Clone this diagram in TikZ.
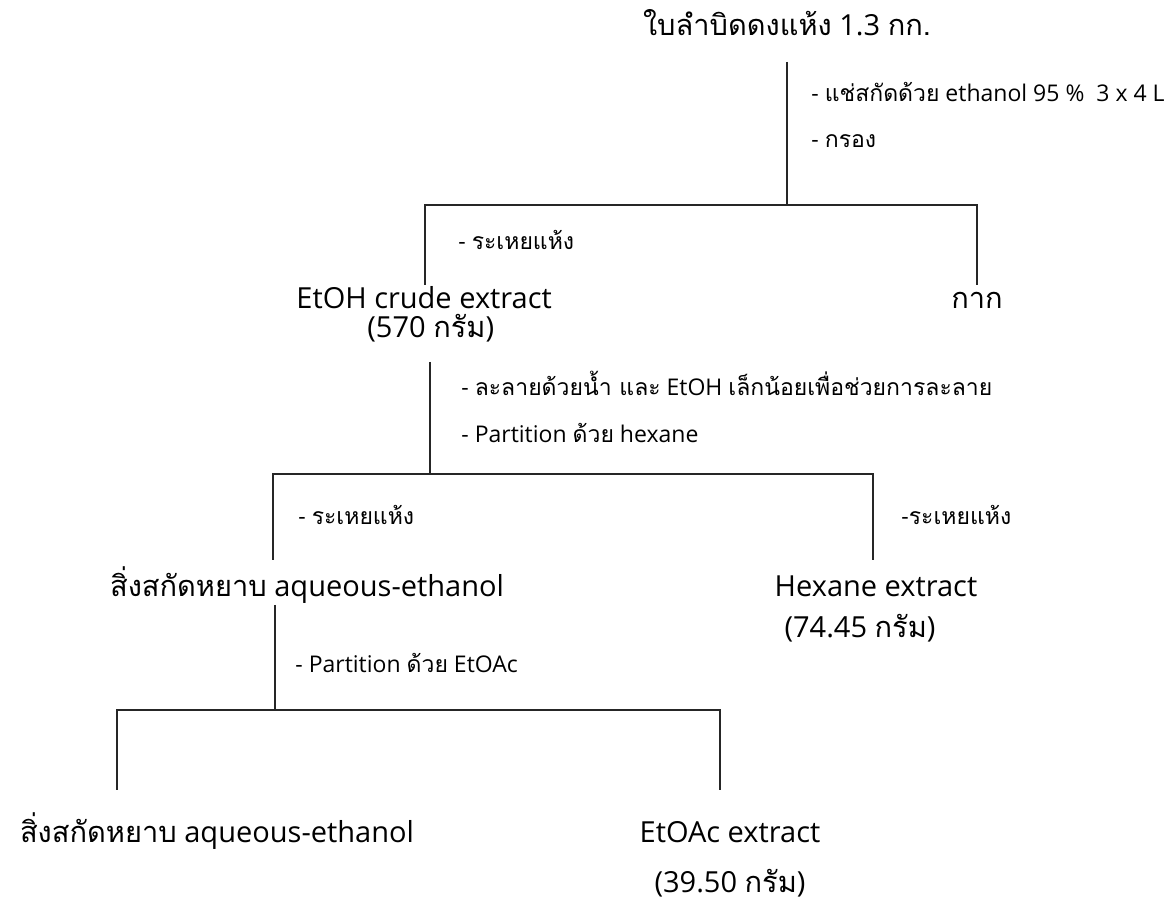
\documentclass[tikz,border=0pt]{standalone}
\usepackage{fontspec}
\setmainfont{Open Sans}
\newfontfamily\thaif[Script=Thai]{Loma}
\begin{document}
\begin{tikzpicture}[x=0.5pt,y=-0.5pt,
  big/.style={anchor=base,inner sep=0pt,font=\fontsize{14.5}{16}\selectfont},
  note/.style={anchor=base west,inner sep=0pt,font=\fontsize{11.5}{13}\selectfont},
  conn/.style={line width=0.75pt,black!85}]
\useasboundingbox[fill=white] (0,0) rectangle (1174,913);
% main nodes
\node[big] (top) at (787,36) {{\thaif ใบลำบิดดงแห้ง} 1.3 {\thaif กก.}};
\node[big,anchor=base west] (crude) at (296,309) {EtOH crude extract};
\node[big,anchor=base west] (crudew) at (367,338) {(570 {\thaif กรัม})};
\node[big] (kak) at (977,309) {{\thaif กาก}};
\node[big] (aq1) at (307,597) {{\thaif สิ่งสกัดหยาบ} aqueous-ethanol};
\node[big] (hex) at (876,597) {Hexane extract};
\node[big] (hexw) at (860,638) {(74.45 {\thaif กรัม})};
\node[big] (aq2) at (217,843) {{\thaif สิ่งสกัดหยาบ} aqueous-ethanol};
\node[big] (ea) at (730,843) {EtOAc extract};
\node[big] (eaw) at (730,893) {(39.50 {\thaif กรัม})};
% notes
\node[note,anchor=base east] (n1) at (1165,102) {- {\thaif แช่สกัดด้วย} ethanol 95 \%\ \ 3 x 4 L};
\node[note] (n2) at (n1.base west |- 0,148) {- {\thaif กรอง}};
\node[note] (n3) at (458,250) {- {\thaif ระเหยแห้ง}};
\node[note] (n4) at (461,396) {- {\thaif ละลายด้วยน้ำ และ} EtOH {\thaif เล็กน้อยเพื่อช่วยการละลาย}};
\node[note] (n5) at (461,443) {- Partition {\thaif ด้วย} hexane};
\node[note] (n6) at (298,525) {- {\thaif ระเหยแห้ง}};
\node[note] (n7) at (901,525) {-{\thaif ระเหยแห้ง}};
\node[note] (n8) at (295,673) {- Partition {\thaif ด้วย} EtOAc};
% junction coordinates
\coordinate (a0) at (787,62);
\coordinate (a1) at (787,205);
\coordinate (aL) at (425,205);
\coordinate (aR) at (977,205);
\coordinate (aLe) at (425,285);
\coordinate (aRe) at (977,285);
\coordinate (b0) at (430,362);
\coordinate (b1) at (430,474);
\coordinate (bL) at (273,474);
\coordinate (bR) at (873,474);
\coordinate (bLe) at (273,560);
\coordinate (bRe) at (873,560);
\coordinate (c0) at (275,605);
\coordinate (c1) at (275,710);
\coordinate (cL) at (117,710);
\coordinate (cR) at (720,710);
\coordinate (cLe) at (117,790);
\coordinate (cRe) at (720,790);
% connectors
\draw[conn] (a0) -- (a1);
\draw[conn] (aLe) -- (aL) -- (aR) -- (aRe);
\draw[conn] (b0) -- (b1);
\draw[conn] (bLe) -- (bL) -- (bR) -- (bRe);
\draw[conn] (c0) -- (c1);
\draw[conn] (cLe) -- (cL) -- (cR) -- (cRe);
\end{tikzpicture}
\end{document}
